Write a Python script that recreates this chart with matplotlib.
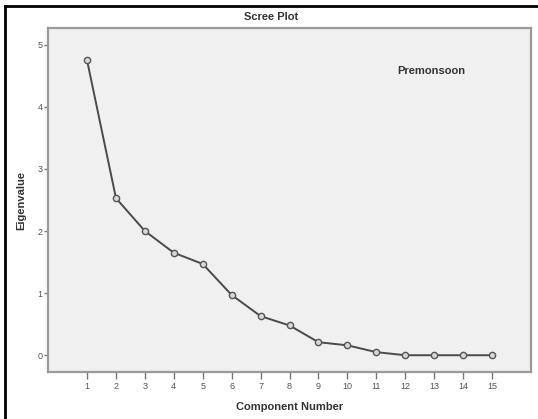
import matplotlib
matplotlib.use("Agg")
import matplotlib.pyplot as plt
from matplotlib.lines import Line2D

plt.rcParams['font.family'] = ['Liberation Sans', 'DejaVu Sans']

# scree plot values
components = [1, 2, 3, 4, 5, 6, 7, 8, 9, 10, 11, 12, 13, 14, 15]
eigenvalues = [4.75, 2.53, 2.0, 1.65, 1.47, 0.97, 0.63, 0.48, 0.21, 0.16, 0.05, 0.0, 0.0, 0.0, 0.0]
y_ticks = [0, 1, 2, 3, 4, 5]

fig = plt.figure(figsize=(5.38, 4.19), dpi=100)
ax = fig.add_axes([48/538, 1-372/419, (531-48)/538, (372-28)/419])
ax.set_facecolor('#f0f0f0')

ax.plot(components, eigenvalues, color='#4a4a4a', lw=1.4,
        marker='o', ms=4.5, mfc='#d8d8d8', mec='#555555', mew=1.0)

ax.set_xlim(-0.35, 16.35)
ax.set_ylim(-0.27, 5.27)
ax.set_xticks(components)
ax.set_yticks(y_ticks)
ax.tick_params(axis='x', direction='out', length=5, width=1, color='#777777',
               labelsize=6.5, labelcolor='#555555', pad=2)
ax.tick_params(axis='y', direction='out', length=3, width=1, color='#777777',
               labelsize=6.5, labelcolor='#555555', pad=1)
for s in ax.spines.values():
    s.set_color('#9a9a9a')
    s.set_linewidth(1.6)

ax.set_xlabel('Component Number', fontsize=8, fontweight='bold', color='#333333', labelpad=8)
ax.set_ylabel('Eigenvalue', fontsize=8, fontweight='bold', color='#333333', labelpad=8)
ax.text(12.9, 4.58, 'Premonsoon', fontsize=8, fontweight='bold', color='#333333',
        ha='center', va='center')
fig.text(271/538, 1-17/419, 'Scree Plot', fontsize=8, fontweight='bold', color='#333333',
         ha='center', va='center')

# outer black frame (cut off on the right and bottom)
fig.add_artist(Line2D([5/538, 5/538], [0, 1-6/419], transform=fig.transFigure, color='black', lw=2))
fig.add_artist(Line2D([5/538, 1], [1-6/419, 1-6/419], transform=fig.transFigure, color='black', lw=2))

fig.savefig('out.png', dpi=100)
